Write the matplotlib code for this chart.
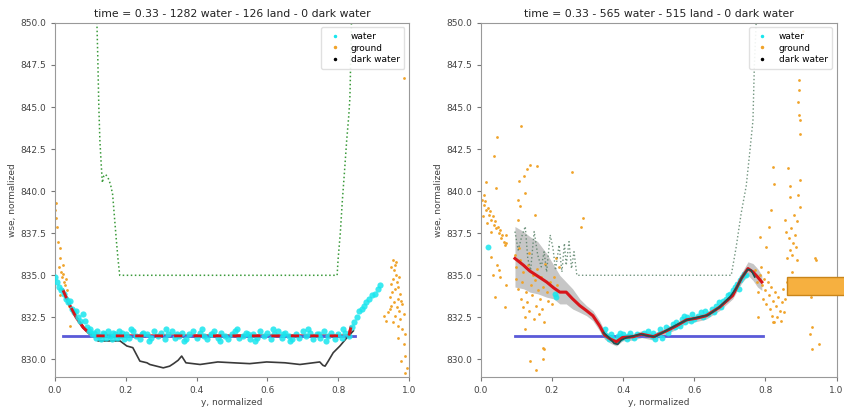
import matplotlib.pyplot as plt
from matplotlib.lines import Line2D
from matplotlib.patches import Rectangle

# ---- left panel ----
title_l = 'time = 0.33 - 1282 water - 126 land - 0 dark water'

green_l_x = [0.118, 0.121, 0.124, 0.127, 0.131, 0.134, 0.138, 0.143, 0.150, 0.157, 0.163, 0.168,
             0.173, 0.178, 0.183, 0.797, 0.800, 0.806, 0.812, 0.818, 0.824, 0.830, 0.833, 0.834,
             0.836, 0.838]
green_l_y = [850.5, 848.0, 845.0, 843.0, 841.5, 840.5, 840.9, 841.0, 840.8, 840.4, 839.8, 838.5,
             837.2, 836.0, 835.0, 835.0, 836.0, 837.5, 839.5, 841.2, 843.0, 844.5, 845.5, 846.3,
             848.5, 850.5]

red_l_x = [0.023, 0.04, 0.06, 0.08, 0.10, 0.115, 0.83, 0.836]
red_l_y = [834.1, 833.3, 832.5, 831.9, 831.5, 831.4, 831.4, 831.9]

blue_l_x = [0.023, 0.847]
blue_l_y = [831.4, 831.4]

black_l_x = [0.122, 0.184, 0.203, 0.22, 0.24, 0.26, 0.268, 0.306, 0.324, 0.335, 0.348, 0.358,
             0.37, 0.41, 0.46, 0.504, 0.55, 0.598, 0.65, 0.692, 0.748, 0.757, 0.763, 0.772,
             0.786, 0.805, 0.823, 0.843]
black_l_y = [831.1, 831.1, 830.8, 830.7, 829.9, 829.8, 829.7, 829.5, 829.6, 829.75, 829.95, 830.2,
             829.8, 829.7, 829.85, 829.8, 829.75, 829.85, 829.8, 829.7, 829.85, 829.65, 829.6, 829.9,
             830.4, 830.8, 831.25, 831.7]

water_l_x = [0.0, 0.005, 0.012, 0.018, 0.025, 0.03, 0.036, 0.042, 0.048, 0.055, 0.06, 0.066,
             0.072, 0.078, 0.085, 0.09, 0.095, 0.1, 0.105,
             0.11, 0.115, 0.12, 0.125, 0.13, 0.135, 0.14, 0.145, 0.15, 0.155, 0.16, 0.165,
             0.17, 0.175, 0.18, 0.185, 0.19, 0.195, 0.2, 0.21, 0.22, 0.23, 0.24, 0.25,
             0.26, 0.27, 0.28, 0.29, 0.3, 0.31, 0.32, 0.33, 0.34, 0.35, 0.36, 0.37,
             0.38, 0.39, 0.4, 0.41, 0.42, 0.43, 0.44, 0.45, 0.46, 0.47, 0.48, 0.49,
             0.5, 0.51, 0.52, 0.53, 0.54, 0.55, 0.56, 0.57, 0.58, 0.59, 0.6, 0.61,
             0.62, 0.63, 0.64, 0.65, 0.66, 0.67, 0.68, 0.69, 0.7, 0.71, 0.72, 0.73,
             0.74, 0.75, 0.76, 0.77, 0.78, 0.79, 0.8, 0.81, 0.82, 0.83,
             0.215, 0.265, 0.315, 0.365, 0.415, 0.465, 0.515, 0.565, 0.615, 0.665, 0.715,
             0.765, 0.815, 0.245, 0.345, 0.445, 0.545, 0.645, 0.745,
             0.838, 0.845, 0.853, 0.86, 0.866, 0.872, 0.88, 0.888, 0.895, 0.904, 0.912, 0.918]
water_l_y = [834.9, 834.6, 834.3, 834.1, 833.9, 833.6, 833.4, 833.5, 833.0, 832.8, 832.9, 832.5,
             832.3, 832.7, 832.3, 831.9, 831.7, 831.8, 831.5,
             831.6, 831.3, 831.7, 831.4, 831.2, 831.6, 831.5, 831.3, 831.7, 831.4, 831.2, 831.6,
             831.5, 831.3, 831.7, 831.4, 831.6, 831.2, 831.5, 831.3, 831.7, 831.4, 831.2, 831.6,
             831.5, 831.3, 831.7, 831.4, 831.6, 831.2, 831.5, 831.7, 831.3, 831.4, 831.6, 831.2,
             831.5, 831.7, 831.3, 831.6, 831.4, 831.2, 831.5, 831.7, 831.3, 831.6, 831.4, 831.2,
             831.5, 831.7, 831.3, 831.4, 831.6, 831.2, 831.5, 831.3, 831.7, 831.4, 831.6, 831.2,
             831.5, 831.7, 831.3, 831.6, 831.4, 831.2, 831.5, 831.3, 831.7, 831.4, 831.6, 831.2,
             831.5, 831.3, 831.7, 831.4, 831.6, 831.2, 831.5, 831.3, 831.6, 831.4,
             831.8, 831.1, 831.8, 831.1, 831.8, 831.1, 831.8, 831.1, 831.8, 831.1, 831.8,
             831.1, 831.8, 831.5, 831.5, 831.5, 831.5, 831.5, 831.5,
             831.9, 832.2, 832.5, 832.9, 833.0, 833.2, 833.4, 833.6, 833.8, 833.9, 834.2, 834.4]

ground_l_x = [0.0, 0.003, 0.006, 0.004, 0.01, 0.013, 0.015, 0.012, 0.018, 0.02, 0.022, 0.025,
              0.028, 0.03, 0.033, 0.036, 0.04, 0.042, 0.015, 0.024,
              0.955, 0.96, 0.958, 0.962, 0.955, 0.965, 0.948, 0.97, 0.96, 0.952, 0.975, 0.945,
              0.968, 0.958, 0.98, 0.95, 0.965, 0.972, 0.94, 0.985, 0.96, 0.975, 0.935, 0.955,
              0.968, 0.98, 0.99, 0.97, 0.985, 0.99, 0.978, 0.993, 0.988, 0.986, 0.95, 0.963,
              0.972, 0.945, 0.93, 0.978]
ground_l_y = [838.9, 838.4, 837.9, 839.3, 837.0, 836.6, 836.0, 835.5, 835.2, 834.9, 835.6, 834.6,
              834.4, 834.8, 834.1, 833.6, 833.2, 832.0, 833.8, 835.1,
              835.9, 835.6, 835.3, 835.0, 834.8, 834.6, 834.5, 834.3, 834.2, 834.0, 833.9, 833.7,
              833.6, 833.4, 833.3, 833.2, 833.1, 832.9, 832.8, 832.7, 832.6, 832.4, 832.3, 832.2,
              832.0, 831.8, 831.5, 831.3, 830.9, 830.2, 829.9, 829.5, 829.2, 846.7, 835.5, 835.8,
              834.9, 833.0, 832.6, 833.5]

# ---- right panel ----
title_r = 'time = 0.33 - 565 water - 515 land - 0 dark water'

green_r_x = [0.096, 0.105, 0.115, 0.125, 0.132, 0.14, 0.15, 0.16, 0.17, 0.178, 0.185, 0.195,
             0.203, 0.21, 0.22, 0.228, 0.235, 0.24, 0.248, 0.255, 0.262, 0.27, 0.704, 0.718,
             0.732, 0.746, 0.756, 0.765, 0.769, 0.775]
green_r_y = [837.6, 836.5, 837.3, 837.9, 836.0, 835.3, 837.6, 836.2, 835.5, 836.4, 835.2, 837.4,
             836.6, 835.3, 836.8, 835.2, 836.9, 835.6, 837.0, 835.4, 836.4, 835.0, 835.0, 836.7,
             838.7, 840.3, 842.3, 844.2, 847.5, 850.5]

red_r_x = [0.096, 0.12, 0.138, 0.16, 0.185, 0.205, 0.222, 0.24, 0.258, 0.278, 0.297, 0.315,
           0.334, 0.348, 0.365, 0.381, 0.398, 0.428, 0.452, 0.485, 0.522, 0.55, 0.578, 0.606,
           0.634, 0.671, 0.708, 0.732, 0.751, 0.765, 0.778, 0.79]
red_r_y = [836.0, 835.6, 835.25, 834.95, 834.6, 834.25, 834.0, 834.0, 833.6, 833.2, 832.9, 832.6,
           832.0, 831.45, 831.2, 831.05, 831.3, 831.35, 831.5, 831.35, 831.7, 832.0, 832.35, 832.45,
           832.6, 833.1, 833.8, 834.8, 835.4, 835.2, 834.9, 834.6]
band_hi = [837.9, 837.6, 837.3, 837.0, 836.3, 835.6, 835.0, 834.6, 834.2, 833.6, 833.2, 832.9,
           832.3, 831.7, 831.45, 831.3, 831.5, 831.55, 831.7, 831.55, 831.9, 832.2, 832.55, 832.65,
           832.8, 833.3, 834.0, 835.1, 835.8, 835.7, 835.4, 835.0]
band_lo = [834.3, 834.2, 834.0, 833.9, 833.7, 833.6, 833.3, 833.3, 833.0, 832.8, 832.6, 832.3,
           831.7, 831.2, 830.95, 830.8, 831.1, 831.15, 831.3, 831.15, 831.5, 831.8, 832.15, 832.25,
           832.4, 832.9, 833.6, 834.5, 835.0, 834.7, 834.3, 834.1]

blue_r_x = [0.096, 0.793]
blue_r_y = [831.4, 831.4]

black_r_x = [0.345, 0.36, 0.375, 0.385, 0.395, 0.41, 0.43, 0.45, 0.47, 0.49, 0.52, 0.55,
             0.58, 0.61, 0.64, 0.67, 0.70, 0.72, 0.735, 0.75, 0.76, 0.77]
black_r_y = [831.6, 831.3, 830.95, 830.9, 831.15, 831.3, 831.4, 831.5, 831.4, 831.35, 831.7, 832.05,
             832.35, 832.5, 832.65, 833.1, 833.7, 834.3, 834.9, 835.35, 835.3, 834.9]

water_r_x = [0.02, 0.208, 0.212,
             0.345, 0.35, 0.355, 0.36, 0.365, 0.37, 0.38, 0.385, 0.39, 0.395, 0.40, 0.41,
             0.415, 0.42, 0.43, 0.44, 0.46, 0.47, 0.48, 0.485, 0.49, 0.50, 0.505, 0.51,
             0.52, 0.525, 0.53, 0.54, 0.545, 0.55, 0.56, 0.565, 0.57, 0.575, 0.58, 0.59,
             0.595, 0.60, 0.61, 0.62, 0.625, 0.63, 0.64, 0.65, 0.655, 0.66, 0.67, 0.675,
             0.68, 0.69, 0.695, 0.70, 0.71, 0.715, 0.72, 0.725, 0.73, 0.735, 0.74, 0.745]
water_r_y = [836.7, 833.9, 833.7,
             831.6, 831.8, 831.4, 831.2, 831.5, 831.3, 831.1, 831.4, 831.6, 831.3, 831.5, 831.2,
             831.4, 831.6, 831.3, 831.5, 831.6, 831.7, 831.4, 831.6, 831.2, 831.5, 831.8, 831.3,
             831.9, 831.6, 831.8, 832.1, 831.9, 832.2, 832.0, 832.4, 832.6, 832.2, 832.5, 832.3,
             832.7, 832.4, 832.6, 832.8, 832.5, 832.9, 832.7, 833.0, 832.8, 833.2, 833.4, 833.1,
             833.5, 833.6, 833.8, 833.9, 834.1, 834.3, 834.5, 834.2, 834.7, 834.9, 835.1, 835.0]

ground_r_x = [0.114, 0.045, 0.037, 0.016, 0.042, 0.138, 0.157, 0.121, 0.107, 0.255, 0.13, 0.104,
              0.104, 0.152, 0.287, 0.283, 0.072, 0.123, 0.11,
              0.003, 0.008, 0.012, 0.015, 0.02, 0.022, 0.026, 0.03, 0.033, 0.036, 0.04, 0.043,
              0.047, 0.05, 0.053, 0.057, 0.06, 0.064, 0.068, 0.072, 0.005, 0.018, 0.028, 0.01,
              0.03, 0.045, 0.05, 0.055, 0.04, 0.067, 0.07, 0.035,
              0.095, 0.1, 0.098, 0.105, 0.11, 0.112, 0.115, 0.118, 0.12, 0.125, 0.124, 0.128,
              0.13, 0.133, 0.136, 0.14, 0.143, 0.146, 0.15, 0.152, 0.155, 0.158, 0.16, 0.163,
              0.166, 0.17, 0.172, 0.175, 0.178, 0.18, 0.185, 0.19, 0.195, 0.2, 0.205, 0.21,
              0.215, 0.22, 0.108, 0.135,
              0.175, 0.175, 0.138, 0.156, 0.177,
              0.896, 0.896, 0.891, 0.894, 0.894, 0.894, 0.905, 0.821, 0.825, 0.863, 0.868, 0.868,
              0.896, 0.893, 0.898, 0.817, 0.81, 0.784, 0.803, 0.854,
              0.858, 0.866, 0.872, 0.878, 0.882, 0.87, 0.876, 0.885, 0.862, 0.89, 0.88, 0.888,
              0.943, 0.929, 0.932, 0.932, 0.94, 0.925, 0.95,
              0.77, 0.775, 0.78, 0.785, 0.79, 0.793, 0.797, 0.8, 0.803, 0.806, 0.81, 0.812,
              0.815, 0.818, 0.82, 0.823, 0.826, 0.83, 0.833, 0.836, 0.84, 0.843, 0.846, 0.85,
              0.853, 0.856, 0.86, 0.865, 0.87, 0.875, 0.778, 0.82, 0.788, 0.808]
ground_r_y = [843.9, 843.2, 842.1, 840.55, 840.2, 841.55, 841.5, 840.9, 840.6, 841.15, 841.3, 839.5,
              838.3, 838.6, 838.4, 837.9, 837.4, 839.9, 839.1,
              839.5, 839.2, 839.4, 838.9, 839.0, 838.6, 838.8, 838.3, 838.5, 838.0, 838.2, 837.8,
              837.9, 837.5, 837.7, 837.2, 837.4, 837.0, 836.8, 836.9, 838.5, 838.1, 837.6, 839.8,
              836.1, 835.6, 835.3, 834.9, 833.7, 833.1, 834.4, 835.0,
              836.2, 835.5, 834.8, 834.2, 835.9, 833.6, 834.6, 833.1, 835.2, 832.5, 831.8, 834.0,
              833.4, 835.6, 832.9, 834.4, 833.8, 835.0, 832.4, 834.7, 833.2, 835.4, 834.1, 832.7,
              833.6, 834.9, 833.0, 834.3, 832.2, 835.7, 834.0, 833.5, 834.6, 833.3, 834.9, 836.0,
              834.4, 835.5, 836.6, 836.3,
              830.7, 830.05, 829.9, 829.4, 830.6,
              844.2, 843.4, 845.3, 846.0, 846.6, 844.5, 849.5, 841.45, 840.4, 841.4, 840.3, 839.65,
              840.65, 839.8, 839.05, 838.9, 837.9, 837.3, 836.7, 838.3,
              837.6, 837.2, 837.8, 836.9, 837.4, 836.5, 836.2, 836.7, 836.0, 838.2, 838.6, 835.9,
              835.9, 833.7, 831.9, 830.6, 836.0, 831.5, 830.9,
              835.3, 834.6, 834.0, 835.0, 834.4, 833.6, 834.8, 834.1, 833.3, 834.6, 833.8, 833.0,
              834.3, 832.6, 833.5, 832.2, 834.0, 833.2, 832.5, 833.7, 832.9, 832.3, 833.4, 834.2,
              832.8, 833.6, 834.6, 833.9, 834.8, 835.2, 832.5, 832.2, 835.5, 835.2]

yticks = [830.0, 832.5, 835.0, 837.5, 840.0, 842.5, 845.0, 847.5, 850.0]
xticks = [0.0, 0.2, 0.4, 0.6, 0.8, 1.0]

fig = plt.figure(figsize=(8.45, 4.09), dpi=100)
ax1 = fig.add_axes([0.065, 0.078, 0.419, 0.866])
ax2 = fig.add_axes([0.569, 0.078, 0.421, 0.866])

cyan = '#19e6ee'
orange = '#f0a32a'

ax1.plot(green_l_x, green_l_y, ':', color='#3a9a3a', lw=1.1)
ax1.plot(red_l_x, red_l_y, color='#d8141a', lw=2.2)
ax1.scatter(water_l_x, water_l_y, s=20, color=cyan, alpha=0.85, lw=0, zorder=3)
ax1.plot(red_l_x, red_l_y, '--', color='#d8141a', lw=2.0, dashes=(3, 4), zorder=4)
ax1.plot(blue_l_x, blue_l_y, color='#5a5ad8', lw=2, zorder=2)
ax1.plot(black_l_x, black_l_y, color='#3a3a3a', lw=1.2)
ax1.scatter(ground_l_x, ground_l_y, s=4, color=orange, lw=0)

ax2.fill_between(red_r_x, band_lo, band_hi, color='#a0a0a0', alpha=0.6, lw=0, zorder=1)
ax2.scatter(ground_r_x, ground_r_y, s=4, color=orange, lw=0, zorder=2)
ax2.plot(green_r_x, green_r_y, ':', color='#4f7a5f', lw=1.0, alpha=0.8, zorder=2)
ax2.scatter(water_r_x, water_r_y, s=18, color=cyan, alpha=0.85, lw=0, zorder=3)
ax2.plot(blue_r_x, blue_r_y, color='#5a5ad8', lw=2, zorder=2)
ax2.plot(red_r_x, red_r_y, color='#d8141a', lw=2.2, zorder=4)
ax2.plot(black_r_x, black_r_y, color='#1f4f4f', lw=1.2, zorder=5)

handles = [Line2D([], [], ls='none', marker='.', ms=3, color=cyan),
           Line2D([], [], ls='none', marker='.', ms=3, color=orange),
           Line2D([], [], ls='none', marker='.', ms=3, color='black')]
labels = ['water', 'ground', 'dark water']

for ax, ttl in [(ax1, title_l), (ax2, title_r)]:
    ax.set_xlim(0, 1)
    ax.set_ylim(828.95, 850)
    ax.set_xticks(xticks)
    ax.set_yticks(yticks)
    ax.set_xticklabels(['%.1f' % v for v in xticks])
    ax.set_yticklabels(['%.1f' % v for v in yticks])
    ax.tick_params(labelsize=6.5, length=3, color='#777777', labelcolor='#444444')
    for sp in ax.spines.values():
        sp.set_color('#999999')
    ax.set_title(ttl, fontsize=7.8, color='#222222', pad=4)
    ax.set_xlabel('y, normalized', fontsize=6.5, color='#444444', labelpad=2)
    ax.set_ylabel('wse, normalized', fontsize=6.5, color='#444444', labelpad=2)
    ax.legend(handles, labels, loc='upper right', fontsize=6.5, handletextpad=0.8,
              borderpad=0.5, labelspacing=0.3, framealpha=0.9, edgecolor='#dddddd')

fig.patches.append(Rectangle((0.931, 0.279), 0.1, 0.044, transform=fig.transFigure,
                             facecolor='#f6b040', edgecolor='#c9851a', lw=1))

fig.savefig('out.png', dpi=100)
